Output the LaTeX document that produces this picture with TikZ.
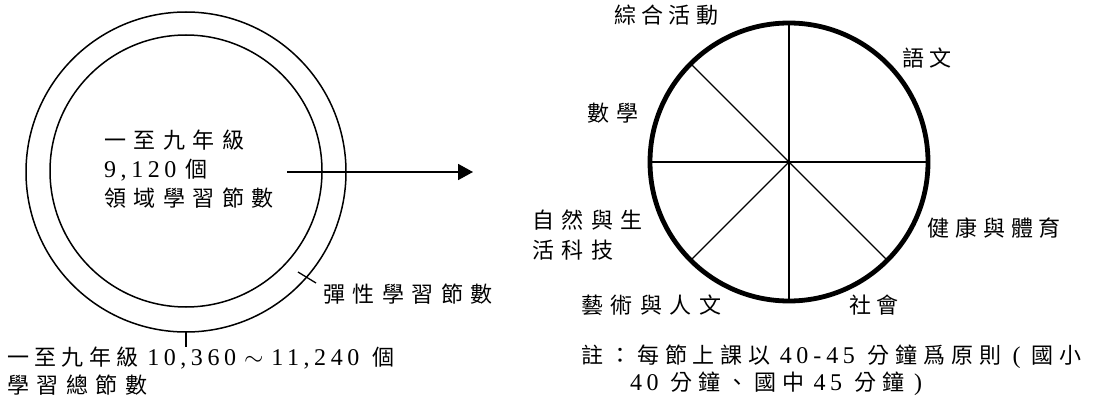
\documentclass[tikz,border=0pt]{standalone}
\usepackage{fontspec}
\setmainfont{Liberation Serif}
\newfontfamily\numfam{Liberation Serif}[LetterSpace=19]
\newfontfamily\cjkfam{Noto Sans CJK TC}[LetterSpace=34]
\newfontfamily\cjkfamB{Noto Sans CJK TC}[LetterSpace=27]
\newfontfamily\cjkfamC{Noto Sans CJK TC}[LetterSpace=24]
\newcommand\cjk{\cjkfam\fontsize{22pt}{26pt}\selectfont}
\newcommand\cjkB{\cjkfamB\fontsize{22pt}{26pt}\selectfont}
\newcommand\cjkC{\cjkfamC\fontsize{22pt}{26pt}\selectfont}
\newcommand\num{\numfam\fontsize{24pt}{26pt}\selectfont}
\newcommand\gap[1]{\hspace{#1pt}}
\usetikzlibrary{arrows.meta}
\tikzset{
  lbl/.style={inner sep=0pt, anchor=west, font=\cjk},
  lblB/.style={lbl, font=\cjkB},
  lblC/.style={lbl, font=\cjkC},
  ring/.style={line width=1.5pt},
  pie/.style={line width=4.8pt},
  spoke/.style={line width=1.3pt},
  arr/.style={line width=1.8pt, -{Triangle[length=15pt,width=16pt]}},
  tick/.style={line width=1.3pt},
}
\begin{document}
\begin{tikzpicture}[x=1pt,y=-1pt]
\useasboundingbox (0,0) rectangle (1102,401);
\fill[white] (0,0) rectangle (1102,401);

% ---- left: total sessions rings
\coordinate (lc) at (186,172);
\draw[ring] (lc) circle[radius=160pt];
\draw[ring] (186,171) circle[radius=136pt];

\node[lbl] (in1) at (104,140) {一至九年級};
\node[lbl] (in2) at (104,170) {{\num 9,120}\gap{9}個};
\node[lbl] (in3) at (104,198) {領域學習節數};

\node[lbl] (flex) at (323,294) {彈性學習節數};
\coordinate (t2a) at (298,272);
\coordinate (t2b) at (316,283);
\draw[tick] (t2a) -- (t2b);

\coordinate (t1a) at (186,332);
\coordinate (t1b) at (186,347);
\draw[tick] (t1a) -- (t1b);
\node[lblC] (tot1) at (7,358) {一至九年級\gap{9}{\num 10,360}\gap{8}{\num$\sim$}\gap{8}{\num 11,240}\gap{13}個};
\node[lbl] (tot2) at (7,385) {學習總節數};

% ---- arrow
\coordinate (as) at (287,172);
\coordinate (ae) at (473,172);
\draw[arr] (as) -- (ae);

% ---- right: pie of learning areas
\coordinate (pc) at (789,162);
\draw[spoke] (pc) -- +(0,-139);
\draw[spoke] (pc) -- +(0,139);
\draw[spoke] (pc) -- +(-139,0);
\draw[spoke] (pc) -- +(139,0);
\draw[spoke] (pc) -- +(-98.3,-98.3);
\draw[spoke] (pc) -- +(-98.3,98.3);
\draw[spoke] (pc) -- +(98.3,98.3);
\draw[pie] (pc) circle[radius=139pt];

\node[lblC] (zh) at (614,15) {綜合活動};
\node[lblC] (yw) at (902,58) {語文};
\node[lbl] (sx) at (587,113) {數學};
\node[lbl] (zr1) at (532,220) {自然與生};
\node[lbl] (zr2) at (532,250) {活科技};
\node[lblB] (jk) at (927,228) {健康與體育};
\node[lbl] (ys) at (581,305) {藝術與人文};
\node[lblC] (sh) at (849,305) {社會};

\node[lblB] (n1) at (581,357) {註：每節上課以\gap{9}{\num 40\gap{5}-\gap{5}45}\gap{13}分鐘爲原則\gap{11}{\num (}\gap{11}國小};
\node[lblB] (n2) at (630,384) {{\num 40}\gap{12}分鐘、國中\gap{9}{\num 45}\gap{12}分鐘\gap{10}{\num )}};
\end{tikzpicture}
\end{document}
